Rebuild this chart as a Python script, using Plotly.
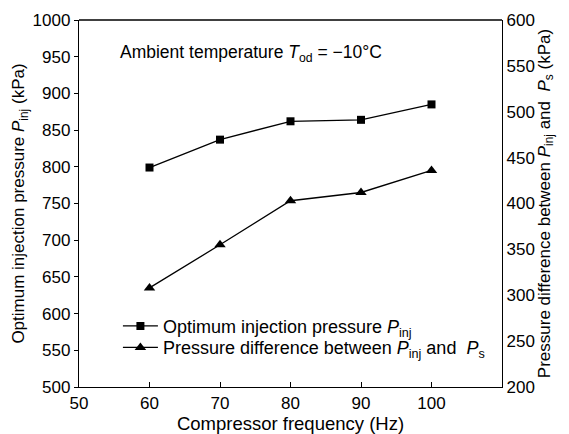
import plotly.graph_objects as go

freq = [60, 70, 80, 90, 100]
p_inj = [799, 837, 862, 864, 885]
p_diff = [308, 355, 403, 412, 436]
x_ticks = [50, 60, 70, 80, 90, 100]
y_left_ticks = list(range(500, 1001, 50))
y_right_ticks = list(range(200, 601, 50))

font = "Liberation Sans, Arial, sans-serif"

fig = go.Figure()
fig.add_trace(go.Scatter(
    x=freq, y=p_inj, mode="lines+markers",
    name="Optimum injection pressure <i>P</i><sub>inj</sub>",
    line=dict(color="black", width=1.3),
    marker=dict(symbol="square", size=8, color="black"),
    legend="legend", showlegend=True,
))
fig.add_trace(go.Scatter(
    x=freq, y=p_diff, mode="lines+markers", yaxis="y2",
    name="Pressure difference between <i>P</i><sub>inj</sub> and  <i>P</i><sub>s</sub>",
    line=dict(color="black", width=1.3),
    marker=dict(symbol="triangle-up", size=10, color="black"),
    legend="legend2", showlegend=True,
))

legend_common = dict(xanchor="left", yanchor="middle", bgcolor="rgba(0,0,0,0)",
                     font=dict(size=18), itemwidth=35)

fig.update_layout(
    width=569, height=434,
    margin=dict(l=79, r=67, t=20, b=47),
    paper_bgcolor="white", plot_bgcolor="white",
    font=dict(family=font, size=17, color="black"),
    showlegend=True,
    xaxis=dict(
        range=[50, 110], tickvals=x_ticks, ticks="inside", ticklen=5,
        tickcolor="black", showline=True, linecolor="black", linewidth=1.3,
        mirror=False, showgrid=False, zeroline=False, automargin=False,
        title=dict(text="Compressor frequency (Hz)", standoff=0, font=dict(size=18.5)),
        tickfont=dict(size=17),
    ),
    yaxis=dict(
        range=[500, 1000], tickvals=y_left_ticks, ticks="outside", ticklen=4,
        tickcolor="black", showline=True, linecolor="black", linewidth=1.3,
        showgrid=False, zeroline=False, automargin=False,
        title=dict(text="Optimum injection pressure <i>P</i><sub>inj</sub> (kPa)", standoff=3,
                   font=dict(size=17)),
        tickfont=dict(size=17),
    ),
    yaxis2=dict(
        range=[200, 600], tickvals=y_right_ticks, ticks="", overlaying="y", side="right",
        showline=True, linecolor="black", linewidth=1.3,
        showgrid=False, zeroline=False, automargin=False,
        title=dict(text="Pressure difference between <i>P</i><sub>inj</sub> and  <i>P</i><sub>s</sub> (kPa)",
                   standoff=3, font=dict(size=17)),
        tickfont=dict(size=17),
    ),
    legend=dict(x=0.092, y=0.1655, **legend_common),
    legend2=dict(x=0.092, y=0.107, **legend_common),
    shapes=[dict(type="line", xref="paper", yref="paper", x0=0, x1=1, y0=1, y1=1,
                 line=dict(color="black", width=1.3))],
    annotations=[dict(
        xref="paper", yref="paper", x=0.092, y=0.91, xanchor="left", yanchor="middle",
        text="Ambient temperature <i>T</i><sub>od</sub> = \u221210\u00b0C",
        showarrow=False, font=dict(size=17.5),
    )],
)

fig.write_html("out.html", config={"displayModeBar": False},
               post_script="document.body.style.margin='0';document.body.style.overflow='hidden';")
